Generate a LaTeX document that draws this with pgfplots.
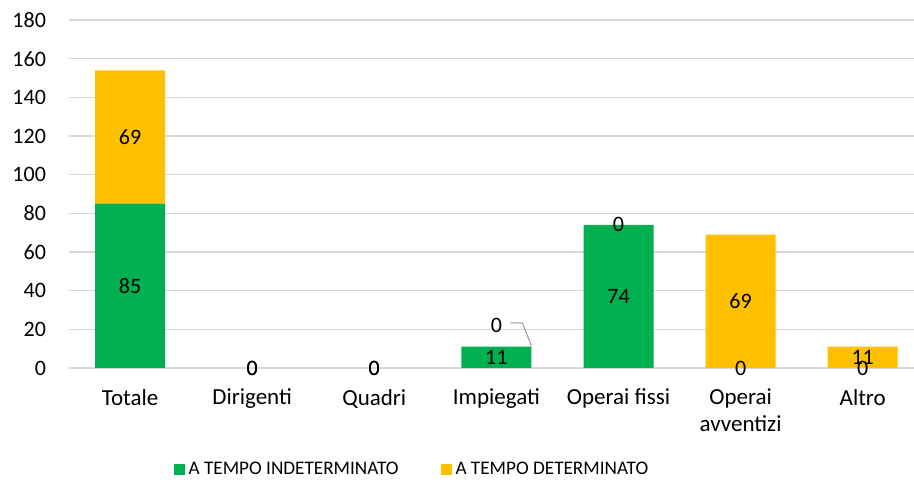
\documentclass[border=0pt]{standalone}
\usepackage{fontspec}
\setmainfont{Carlito}
\usepackage{pgfplots}
\pgfplotsset{compat=1.18}
\definecolor{xlgreen}{HTML}{00B050}
\definecolor{xlgold}{HTML}{FFC000}
\definecolor{gridgray}{HTML}{D9D9D9}
\newcommand{\xlbl}{\fontsize{11.5}{13.5}\selectfont}
\newcommand{\ylbl}{\fontsize{11}{13}\selectfont}
\newcommand{\dlbl}{\fontsize{11}{13}\selectfont}
\newcommand{\leglbl}{\fontsize{9.6}{11}\selectfont}

% data labels: position (centre of each segment) and text
\pgfplotstableread{
x y lab
0 42.5 85
1 0 0
2 0 0
3 5.5 11
4 37 74
5 0 0
6 0 0
0 119.5 69
1 0 0
2 0 0
3 22.2 0
4 74 0
5 34.5 69
6 5.5 11
}\labels
\usepackage{pgfplotstable}

\begin{document}
\begin{tikzpicture}
\useasboundingbox (0,0) rectangle (457pt,246pt);
\pgfplotsset{frame/.style={
  at={(34.5pt,62pt)}, anchor=south west,
  scale only axis, width=422.5pt, height=174pt,
  xmin=-0.5, xmax=6.42, ymin=0, ymax=180}}
\begin{axis}[frame,
  ybar stacked, bar width=35pt,
  xtick={0,...,6},
  xticklabels={Totale,Dirigenti,Quadri,Impiegati,Operai fissi,Operai\\avventizi,Altro},
  ytick={0,20,...,180},
  ymajorgrids, grid style={gridgray, line width=0.8pt},
  axis line style={draw=none},
  major tick length=0pt,
  /pgf/number format/assume math mode=true,
  xticklabel style={font=\xlbl, text=black, align=center, yshift=-7pt},
  yticklabel style={font=\ylbl, text=black, xshift=-8pt},
  legend style={at={(0.407,-0.293)}, anchor=center, draw=none, font=\leglbl,
    legend columns=2, /tikz/every even column/.append style={column sep=19pt}},
  legend image code/.code={\fill[#1] (0pt,-2.75pt) rectangle (5.5pt,2.75pt);},
]
\addplot[fill=xlgreen, draw=none] coordinates {
  (0,85) (1,0) (2,0) (3,11) (4,74) (5,0) (6,0)};
\addplot[fill=xlgold, draw=none] coordinates {
  (0,69) (1,0) (2,0) (3,0) (4,0) (5,69) (6,11)};
\legend{A TEMPO INDETERMINATO, A TEMPO DETERMINATO}
% leader line of the moved yellow zero on Impiegati
\draw[gray!80, line width=0.5pt] (axis cs:3.115,23.3) -- (axis cs:3.213,23.3) -- (axis cs:3.287,11.4);
\end{axis}
\begin{axis}[frame, hide axis]
\addplot[only marks, mark=none, point meta=explicit symbolic,
  nodes near coords={\pgfplotspointmeta},
  every node near coord/.append style={anchor=center, font=\dlbl, text=black}]
  table[x=x, y=y, meta=lab] {\labels};
\end{axis}
\end{tikzpicture}
\end{document}
